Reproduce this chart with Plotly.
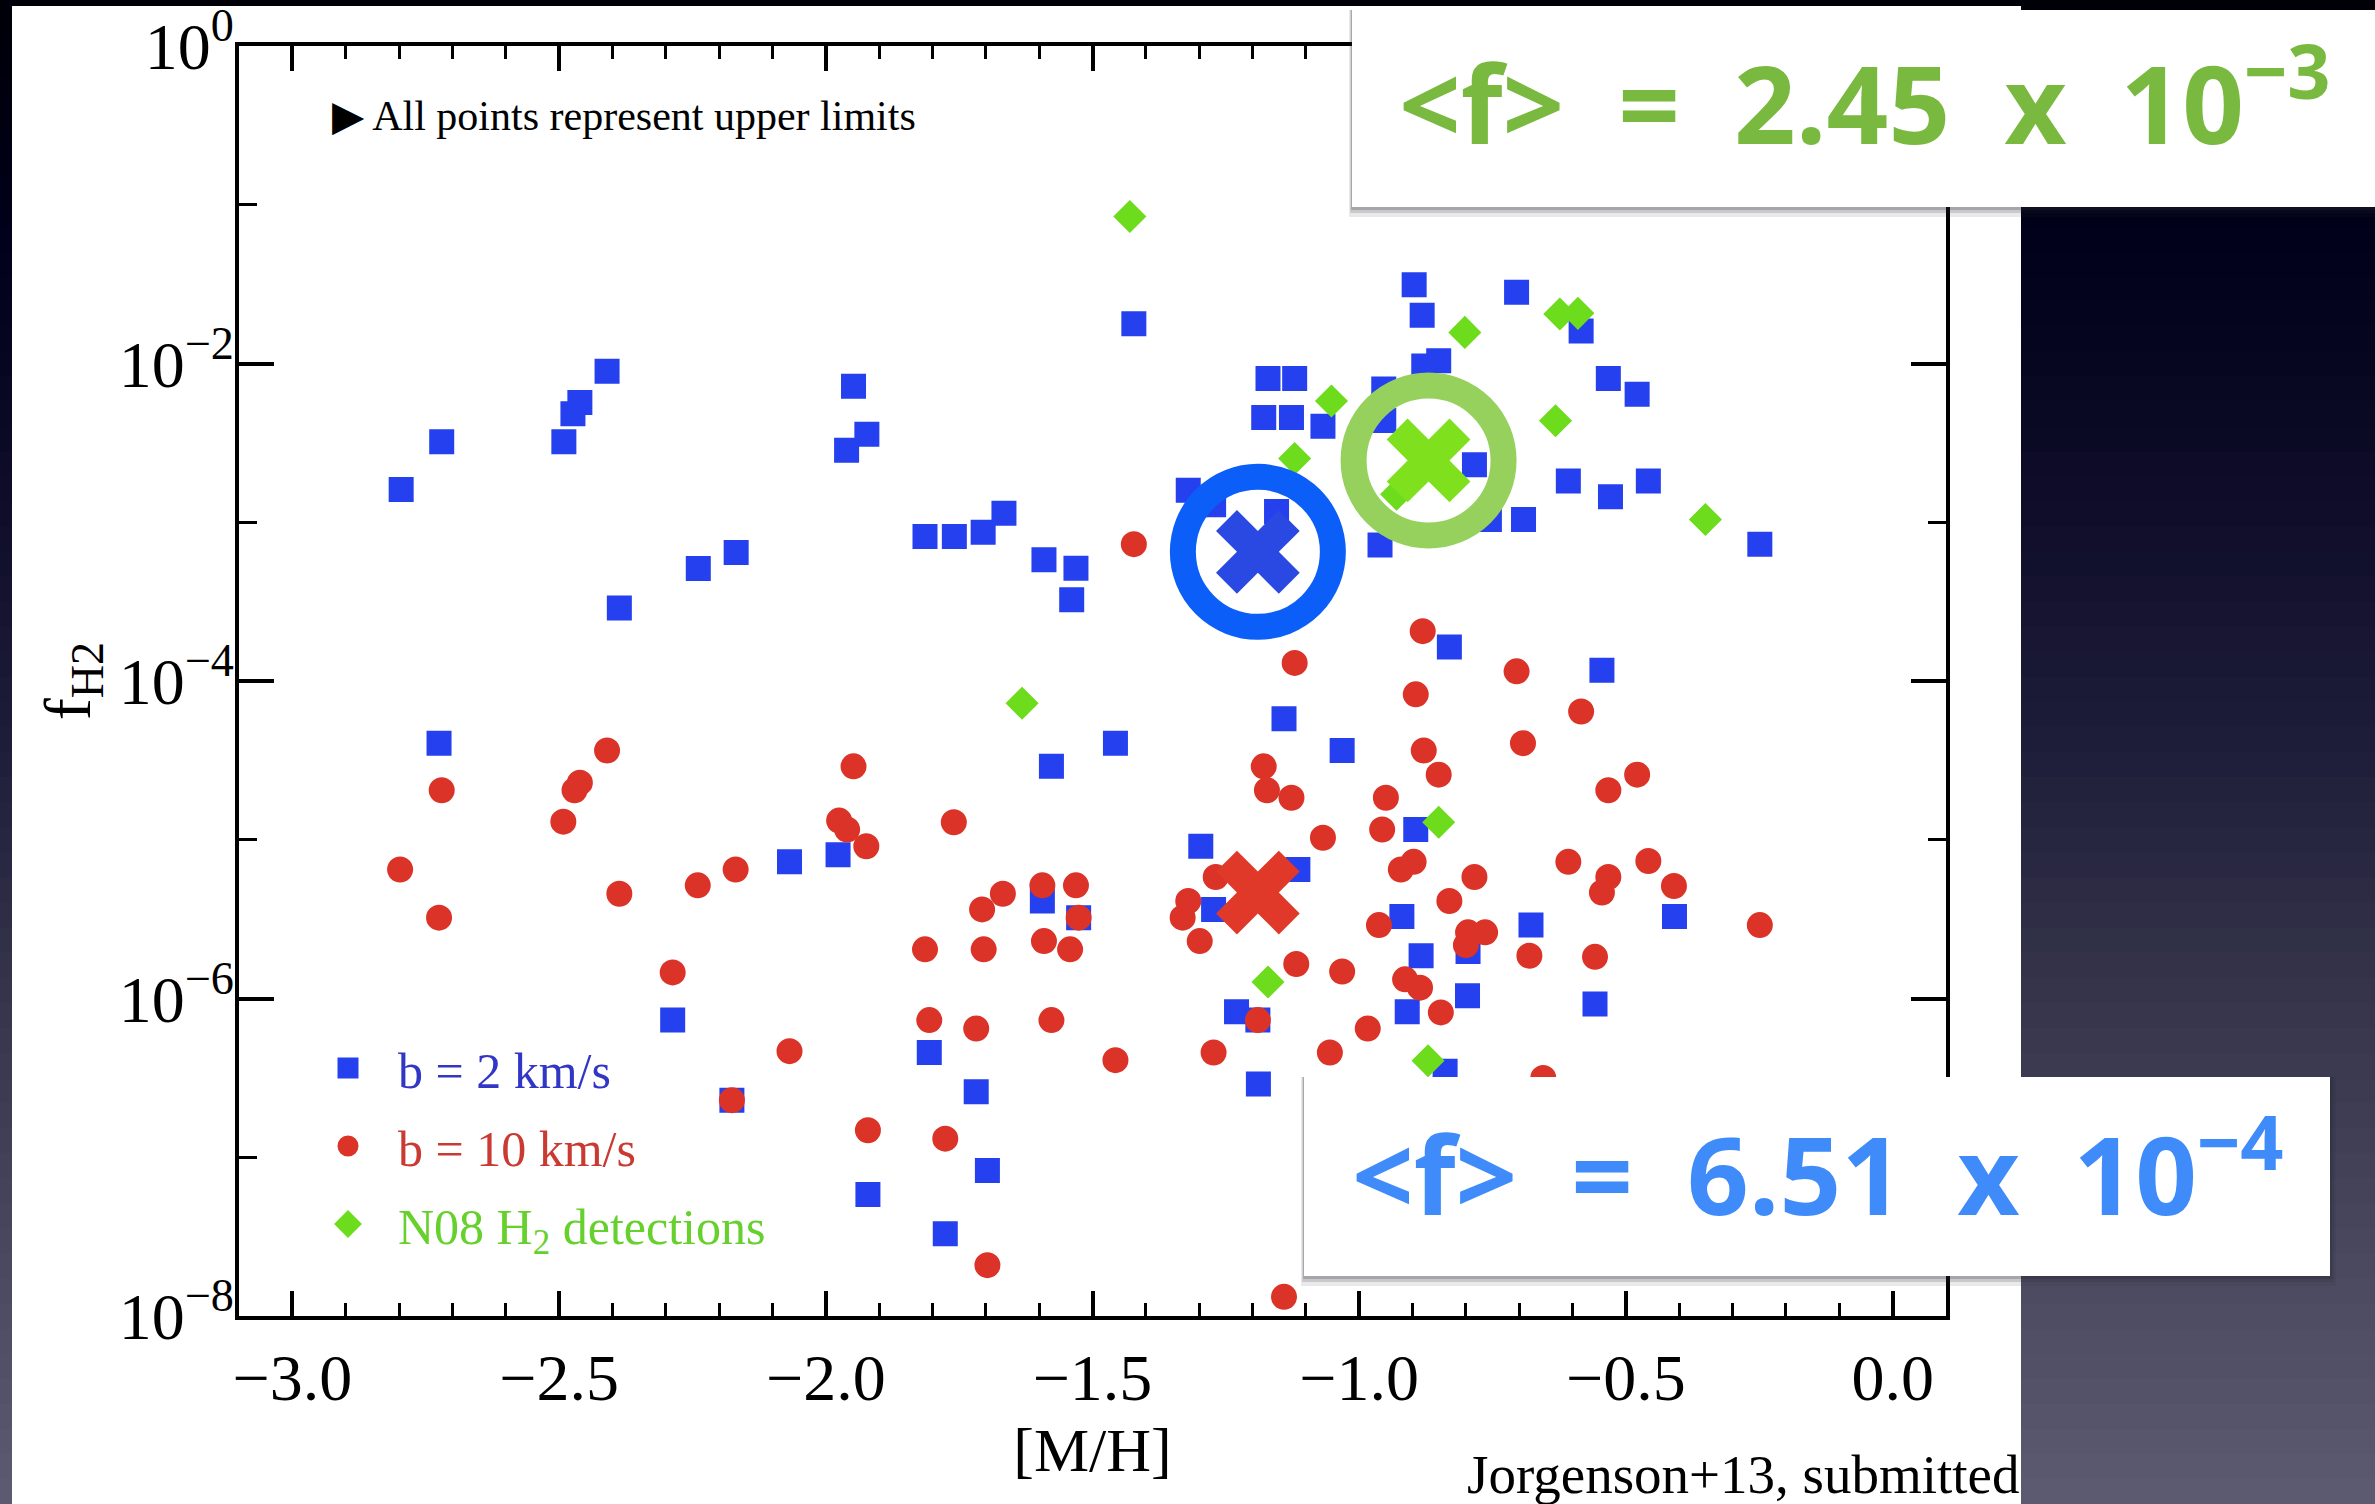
import numpy as np
import plotly.graph_objects as go

# ---------------- data: [M/H] vs f_H2 upper limits ----------------
# b = 2 km/s curve-of-growth limits
b2_mh = [-2.796, -2.720, -2.491, -2.474, -2.461, -2.410, -2.387, -2.239, -2.168, -1.948,
         -1.961, -1.923, -1.4225, -1.814, -1.759, -1.705, -1.666, -1.591, -1.531, -1.539,
         -1.171, -1.121, -1.179, -1.127, -1.068, -1.3205, -1.273, -1.155, -0.897, -0.882,
         -0.705, -0.851, -0.879, -0.954, -0.954, -0.784, -0.961, -0.756, -0.692, -0.831,
         -0.584, -0.533, -0.479, -0.608, -0.529, -0.458, -0.249, -0.545, -2.725, -2.068,
         -1.977, -2.287, -2.176, -1.921, -1.577, -1.457, -1.594, -1.526, -1.806, -1.718,
         -1.697, -1.776, -1.141, -1.032, -0.894, -1.297, -1.115, -1.273, -0.920, -0.678,
         -0.796, -0.884, -0.797, -1.230, -1.190, -0.910, -1.189, -0.839, -0.409, -0.558]
b2_f = [1.61e-3, 3.21e-3, 3.21e-3, 4.83e-3, 5.68e-3, 8.95e-3, 2.88e-4, 5.11e-4, 6.44e-4, 7.19e-3,
        2.84e-3, 3.58e-3, 1.78e-2, 8.13e-4, 8.13e-4, 8.65e-4, 1.14e-3, 5.81e-4, 5.14e-4, 3.25e-4,
        8.04e-3, 8.04e-3, 4.57e-3, 4.57e-3, 4.03e-3, 1.59e-3, 1.29e-3, 1.17e-3, 3.13e-2, 2.01e-2,
        2.81e-2, 1.04e-2, 9.66e-3, 6.92e-3, 4.37e-3, 2.30e-3, 7.19e-4, 1.04e-3, 1.04e-3, 1.64e-4,
        1.60e-2, 8.04e-3, 6.41e-3, 1.82e-3, 1.45e-3, 1.82e-3, 7.28e-4, 1.17e-4, 4.06e-5, 7.26e-6,
        8.05e-6, 7.31e-7, 2.29e-7, 5.83e-8, 2.90e-5, 4.06e-5, 4.11e-6, 3.23e-6, 4.57e-7, 2.59e-7,
        8.26e-8, 3.30e-8, 5.79e-5, 3.65e-5, 1.16e-5, 9.10e-6, 6.50e-6, 3.64e-6, 3.28e-6, 2.90e-6,
        1.98e-6, 1.86e-6, 1.04e-6, 8.26e-7, 7.31e-7, 8.26e-7, 2.89e-7, 3.48e-7, 3.28e-6, 9.23e-7]

# b = 10 km/s curve-of-growth limits
b10_mh = [-1.4225, -0.881, -1.121, -0.705, -0.894, -0.584, -2.720, -2.410, -2.471, -2.461,
          -2.492, -2.798, -2.725, -2.387, -2.240, -2.169, -1.948, -1.975, -1.960, -1.924,
          -2.287, -2.068, -2.176, -1.921, -1.760, -1.668, -1.707, -1.594, -1.531, -1.526,
          -1.814, -1.704, -1.591, -1.542, -1.806, -1.718, -1.577, -1.457, -1.776, -1.697,
          -1.141, -0.693, -1.179, -1.173, -1.127, -0.879, -0.851, -0.950, -0.957, -1.068,
          -0.898, -0.922, -0.784, -1.269, -0.831, -1.3205, -1.331, -1.299, -0.963, -0.796,
          -0.764, -0.800, -0.681, -1.118, -1.032, -0.914, -0.886, -1.190, -0.847, -0.984,
          -1.273, -1.055, -0.479, -0.533, -0.608, -0.458, -0.533, -0.545, -0.410, -0.249,
          -0.558, -0.655]
b10_f = [7.28e-4, 2.06e-4, 1.30e-4, 1.15e-4, 8.24e-5, 6.43e-5, 2.05e-5, 3.65e-5, 2.05e-5, 2.29e-5,
         1.30e-5, 6.50e-6, 3.23e-6, 4.57e-6, 5.16e-6, 6.50e-6, 2.90e-5, 1.32e-5, 1.16e-5, 9.10e-6,
         1.46e-6, 4.66e-7, 2.29e-7, 1.48e-7, 1.29e-5, 4.57e-6, 3.64e-6, 5.16e-6, 5.16e-6, 3.23e-6,
         2.04e-6, 2.04e-6, 2.30e-6, 2.04e-6, 7.31e-7, 6.47e-7, 7.31e-7, 4.09e-7, 1.31e-7, 2.09e-8,
         1.32e-8, 4.06e-5, 2.90e-5, 2.05e-5, 1.84e-5, 3.65e-5, 2.57e-5, 1.84e-5, 1.16e-5, 1.03e-5,
         7.26e-6, 6.50e-6, 5.83e-6, 5.83e-6, 4.11e-6, 4.11e-6, 3.23e-6, 2.30e-6, 2.90e-6, 2.61e-6,
         2.61e-6, 2.17e-6, 1.86e-6, 1.65e-6, 1.48e-6, 1.32e-6, 1.17e-6, 7.31e-7, 8.17e-7, 6.47e-7,
         4.57e-7, 4.57e-7, 2.57e-5, 2.05e-5, 7.26e-6, 7.35e-6, 5.83e-6, 4.65e-6, 5.11e-6, 2.90e-6,
         1.83e-6, 3.16e-7]

# Noterdaeme et al. (2008) H2 detections
n08_mh = [-1.430, -1.052, -1.121, -0.930, -0.802, -0.624, -0.590, -0.632, -0.351, -1.632,
          -0.851, -1.171, -0.871]
n08_f = [8.43e-2, 5.81e-3, 2.52e-3, 1.50e-3, 1.57e-2, 2.05e-2, 2.07e-2, 4.36e-3, 1.04e-3, 7.24e-5,
         1.29e-5, 1.27e-6, 4.05e-7]

# sample means
mean_b2 = (-1.19, 6.51e-4)
mean_b10 = (-1.19, 4.65e-6)
mean_n08 = (-0.87, 2.45e-3)
SP = "\u2002"  # en space, keeps the wide spacing of the callout text
mean_b2_label = f"&lt;f&gt;{SP}={SP}6.51{SP}x{SP}10<sup>\u22124</sup>"
mean_n08_label = f"&lt;f&gt;{SP}={SP}2.45{SP}x{SP}10<sup>\u22123</sup>"

# axes
x_tickvals = [-3.0, -2.5, -2.0, -1.5, -1.0, -0.5, 0.0]
x_ticktext = ["\u22123.0", "\u22122.5", "\u22122.0", "\u22121.5", "\u22121.0", "\u22120.5", "0.0"]
y_tickvals = [1e-8, 1e-6, 1e-4, 1e-2, 1e0]
y_ticktext = ["10<sup>\u22128</sup>", "10<sup>\u22126</sup>", "10<sup>\u22124</sup>",
              "10<sup>\u22122</sup>", "10<sup>0</sup>"]
y_minorvals = [1e-7, 1e-5, 1e-3, 1e-1]

# ---------------- page geometry (pixels) ----------------
W, H = 2375, 1504
PL, PR, PT, PB = 239, 1946, 46, 1316


def px(xp):
    return (xp - PL) / (PR - PL)


def py(yp):
    return (PB - yp) / (PB - PT)


SERIF = "Liberation Serif, Times New Roman, serif"
SANS = "Open Sans, Lato, sans-serif"

C_B2 = "#2540ee"
C_B10 = "#dc3328"
C_N08 = "#6ddc1c"

fig = go.Figure()

fig.add_trace(go.Scatter(
    x=b2_mh, y=b2_f, mode="markers", legendgroup="b2",
    name="<span style='color:#3236c4'>b = 2 km/s</span>",
    marker=dict(symbol="square", size=20, color=C_B2, line=dict(width=5, color=C_B2)),
))
fig.add_trace(go.Scatter(
    x=b10_mh, y=b10_f, mode="markers", legendgroup="b10",
    name="<span style='color:#c83a32'>b = 10 km/s</span>",
    marker=dict(symbol="circle", size=21, color=C_B10, line=dict(width=5, color=C_B10)),
))
fig.add_trace(go.Scatter(
    x=n08_mh, y=n08_f, mode="markers", legendgroup="n08",
    name="<span style='color:#66d02c'>N08 H<sub>2</sub> detections</span>",
    marker=dict(symbol="diamond", size=20, color=C_N08, line=dict(width=5, color=C_N08)),
))

# mean values: big crosses
for (mx, my), col in [(mean_b10, "#e0392a"), (mean_b2, "#2a48e2"), (mean_n08, "#7fe01e")]:
    fig.add_trace(go.Scatter(
        x=[mx], y=[my], mode="markers", showlegend=False, hoverinfo="skip",
        marker=dict(symbol="x", size=74, color=col, line=dict(width=0)),
    ))

# rings highlighting the two means that are quoted
for (mx, my), col in [(mean_b2, "#0b5ff8"), (mean_n08, "#96d15e")]:
    fig.add_trace(go.Scatter(
        x=[mx], y=[my], mode="markers", showlegend=False, hoverinfo="skip",
        marker=dict(symbol="circle-open", size=150, color=col, line=dict(width=26, color=col)),
    ))

# ---------------- background: slide gradient + white figure panel ----------------
shapes = []
stops = [(0.0, (0, 0, 8)), (0.15, (0, 0, 26)), (0.35, (16, 14, 42)), (0.5, (31, 30, 58)),
         (0.65, (52, 51, 73)), (0.8, (69, 68, 91)), (1.0, (93, 91, 113))]
N = 60
for i in range(N):
    t = (i + 0.5) / N
    for (t0, c0), (t1, c1) in zip(stops[:-1], stops[1:]):
        if t0 <= t <= t1:
            f = (t - t0) / (t1 - t0)
            c = tuple(int(round(a + (b - a) * f)) for a, b in zip(c0, c1))
            break
    shapes.append(dict(type="rect", xref="paper", yref="paper", layer="below",
                       x0=px(0), x1=px(W), y0=py(H * i / N), y1=py(H * (i + 1) / N + 1),
                       fillcolor="rgb(%d,%d,%d)" % c, line=dict(width=0)))
shapes.append(dict(type="rect", xref="paper", yref="paper", layer="below",
                   x0=px(12), x1=px(2021), y0=py(6), y1=py(H + 2),
                   fillcolor="white", line=dict(width=0)))


def card(x0, y0, x1, y1):
    out = []
    for d, a in [(10, 0.10), (6, 0.16), (3, 0.22)]:
        out.append(dict(type="rect", xref="paper", yref="paper", layer="above",
                        x0=px(x0 - d * 0.3), x1=px(x1 + d * 0.6), y0=py(y0), y1=py(y1 + d),
                        fillcolor="rgba(40,40,50,%.2f)" % a, line=dict(width=0)))
    out.append(dict(type="rect", xref="paper", yref="paper", layer="above",
                    x0=px(x0), x1=px(x1), y0=py(y0), y1=py(y1),
                    fillcolor="white", line=dict(width=0)))
    return out


shapes += card(1352, 10, 2380, 207)
shapes += card(1304, 1077, 2330, 1276)

annotations = [
    dict(xref="paper", yref="paper", x=px(330), y=py(116), xanchor="left", yanchor="middle",
         text="\u25B6 All points represent upper limits", showarrow=False,
         font=dict(family=SERIF, size=42, color="black")),
    dict(xref="paper", yref="paper", x=px(2022), y=py(1474), xanchor="right", yanchor="middle",
         text="Jorgenson+13, submitted", showarrow=False,
         font=dict(family=SERIF, size=55, color="black")),
    dict(xref="paper", yref="paper", x=px(1865), y=py(97), xanchor="center", yanchor="middle",
         text=mean_n08_label, showarrow=False,
         font=dict(family=SANS, size=108, color="#79b93f", weight="bold")),
    dict(xref="paper", yref="paper", x=px(1818), y=py(1168), xanchor="center", yanchor="middle",
         text=mean_b2_label, showarrow=False,
         font=dict(family=SANS, size=108, color="#3f8bfa", weight="bold")),
]

axis_common = dict(
    showgrid=False, zeroline=False, showline=True, linecolor="black", linewidth=4,
    mirror="allticks", ticks="inside", tickcolor="black", automargin=False,
    tickfont=dict(family=SERIF, size=66, color="black"),
)

fig.update_layout(
    width=W, height=H,
    margin=dict(l=PL, r=W - PR, t=PT, b=H - PB, pad=0),
    paper_bgcolor="black", plot_bgcolor="rgba(0,0,0,0)",
    shapes=shapes, annotations=annotations,
    showlegend=True,
    legend=dict(x=px(298), y=py(1029), xanchor="left", yanchor="top",
                bgcolor="rgba(0,0,0,0)", font=dict(family=SERIF, size=50),
                itemwidth=90, tracegroupgap=10, traceorder="grouped"),
    xaxis=dict(**axis_common, range=[-3.1, 0.1], tickmode="array",
               tickvals=x_tickvals, ticktext=x_ticktext, ticklen=25, tickwidth=3.5,
               minor=dict(ticks="inside", dtick=0.1, tick0=0, ticklen=13, tickwidth=3,
                          tickcolor="black", showgrid=False),
               ticklabelstandoff=1,
               title=dict(text="[M/H]", font=dict(family=SERIF, size=62, color="black"),
                          standoff=15)),
    yaxis=dict(**axis_common, type="log", range=[-8, 0], tickmode="array",
               tickvals=y_tickvals, ticktext=y_ticktext, ticklen=35, tickwidth=3.5,
               minor=dict(ticks="inside", tickmode="array", tickvals=y_minorvals, ticklen=18,
                          tickwidth=3, tickcolor="black", showgrid=False),
               ticklabelstandoff=-12,
               title=dict(text="f<sub>H2</sub>", font=dict(family=SERIF, size=66, color="black"),
                          standoff=8)),
)

fig.write_html("out.html", config={"displayModeBar": False})
